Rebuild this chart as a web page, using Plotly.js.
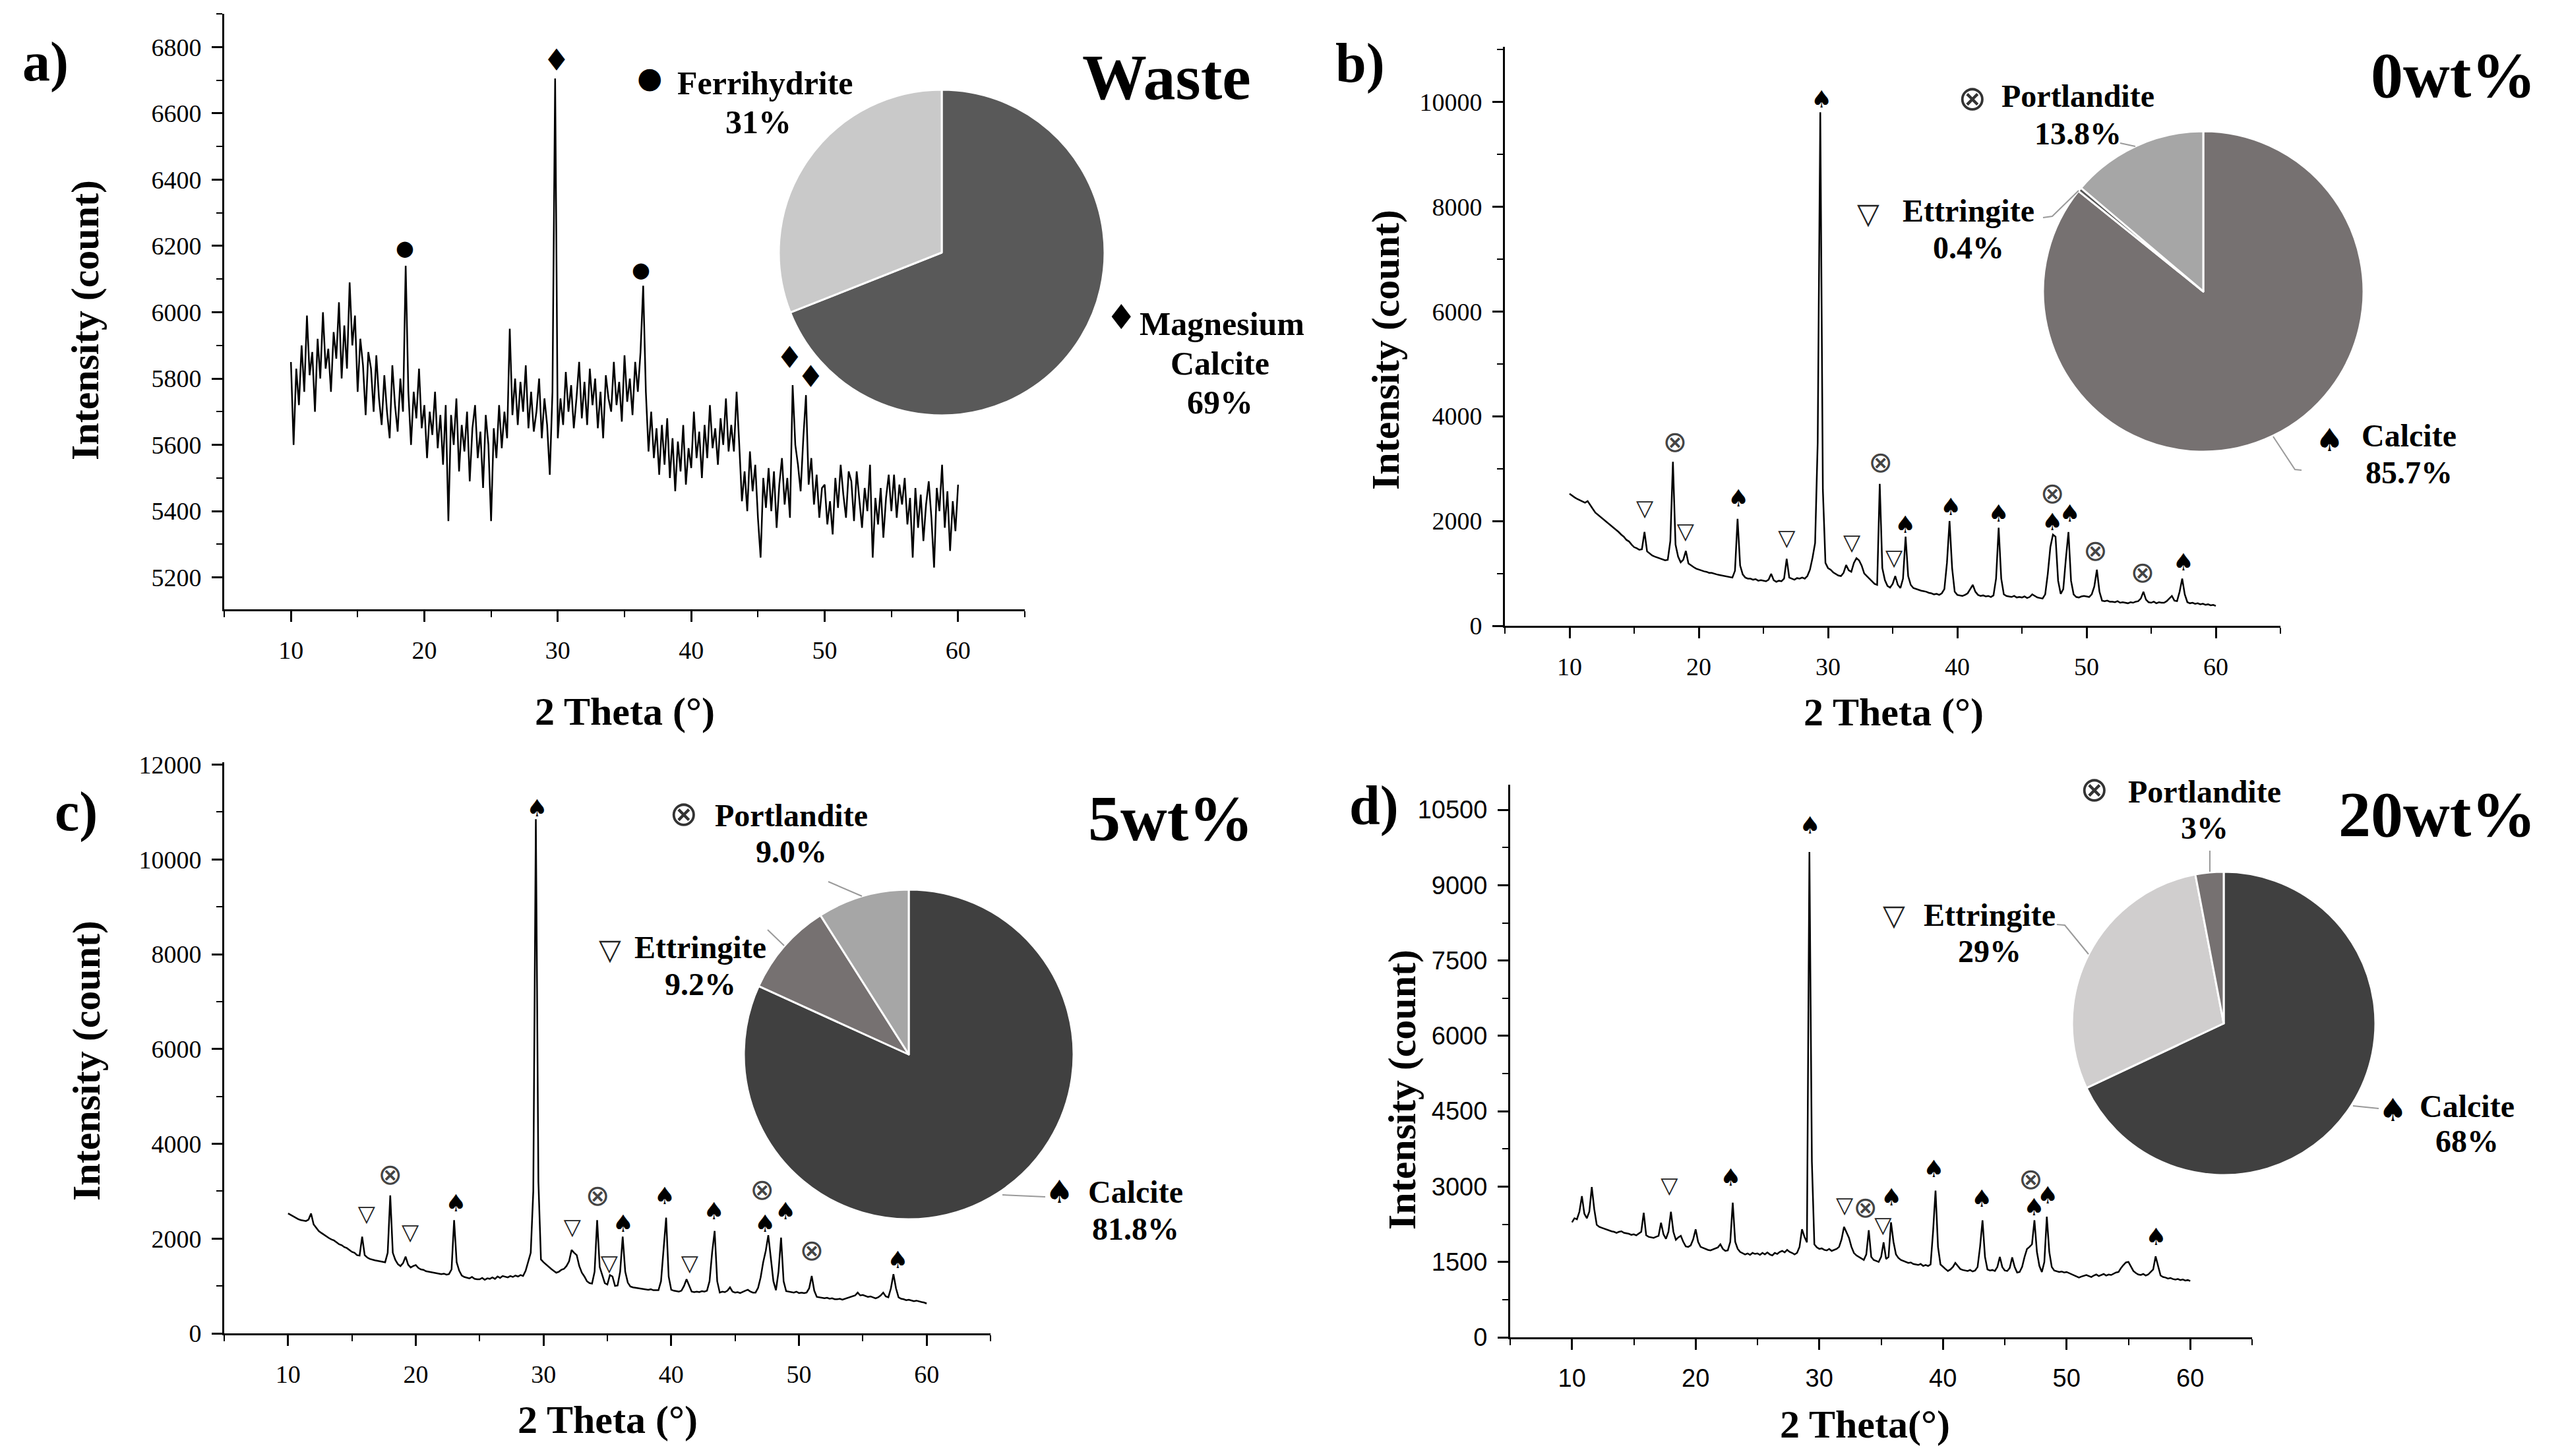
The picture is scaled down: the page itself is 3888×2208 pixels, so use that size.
<!DOCTYPE html>
<html>
<head>
<meta charset="utf-8">
<script src="https://cdn.plot.ly/plotly-3.0.1.min.js"></script>
<style>body{margin:0;background:#fff}</style>
</head>
<body>
<div id="plot"></div>
<script>
const W = 3888, H = 2208;
const SERIF = 'Liberation Serif, Times New Roman, serif';
const SANS = 'Liberation Sans, Arial, sans-serif';
const SYM = 'DejaVu Sans, sans-serif';

// scan grid: 10 to 60 degrees, 0.2 degree step
const THETA_START = 10, THETA_STEP = 0.2;

// a) waste
const wasteCounts = [
  5850, 5600, 5830, 5720, 5900,
  5760, 5990, 5810, 5880, 5700,
  5920, 5800, 6000, 5830, 5890,
  5760, 5940, 5860, 6030, 5800,
  5960, 5830, 6090, 5900, 5990,
  5760, 5920, 5840, 5690, 5880,
  5830, 5700, 5870, 5740, 5660,
  5810, 5700, 5620, 5840, 5720,
  5640, 5800, 5700, 6140, 5760,
  5600, 5760, 5680, 5830, 5650,
  5720, 5560, 5700, 5630, 5760,
  5590, 5690, 5540, 5720, 5370,
  5690, 5600, 5740, 5520, 5660,
  5580, 5700, 5490, 5650, 5720,
  5560, 5640, 5470, 5690, 5600,
  5370, 5650, 5560, 5720, 5590,
  5700, 5620, 5950, 5690, 5800,
  5660, 5790, 5700, 5840, 5650,
  5760, 5640, 5700, 5800, 5620,
  5740, 5660, 5510, 5760, 6705,
  5620, 5740, 5660, 5820, 5700,
  5780, 5650, 5740, 5850, 5680,
  5790, 5660, 5830, 5720, 5800,
  5650, 5760, 5620, 5810, 5740,
  5700, 5850, 5720, 5790, 5670,
  5870, 5730, 5800, 5690, 5850,
  5760, 5880, 6080, 5760, 5580,
  5700, 5560, 5650, 5510, 5660,
  5540, 5680, 5500, 5620, 5460,
  5610, 5520, 5660, 5480, 5590,
  5530, 5700, 5560, 5640, 5500,
  5660, 5560, 5720, 5590, 5650,
  5540, 5680, 5600, 5740, 5580,
  5660, 5580, 5760, 5600, 5430,
  5520, 5400, 5580, 5460, 5540,
  5380, 5260, 5500, 5410, 5530,
  5400, 5520, 5350, 5480, 5560,
  5420, 5500, 5380, 5780, 5600,
  5540, 5460, 5620, 5750, 5480,
  5560, 5420, 5510, 5380, 5470,
  5480, 5360, 5430, 5330, 5500,
  5410, 5540, 5450, 5380, 5520,
  5490, 5370, 5520, 5430, 5350,
  5470, 5400, 5540, 5260, 5440,
  5360, 5470, 5320, 5440, 5510,
  5400, 5510, 5380, 5480, 5420,
  5500, 5360, 5440, 5260, 5470,
  5350, 5450, 5310, 5420, 5490,
  5380, 5230, 5470, 5400, 5540,
  5350, 5460, 5280, 5430, 5340,
  5480
];

// b) 0wt%
const wt0Counts = [
  2520, 2480, 2450, 2420, 2400,
  2370, 2350, 2380, 2300, 2230,
  2160, 2120, 2080, 2040, 2000,
  1950, 1920, 1870, 1840, 1790,
  1740, 1700, 1640, 1610, 1550,
  1500, 1480, 1450, 1460, 1790,
  1420, 1380, 1340, 1320, 1300,
  1290, 1270, 1250, 1260, 1620,
  3130, 1550, 1320, 1210, 1260,
  1430, 1190, 1150, 1120, 1090,
  1070, 1060, 1040, 1030, 1010,
  1010, 990, 980, 970, 960,
  950, 940, 930, 920, 1050,
  2040, 1150, 980, 920, 900,
  900, 880, 890, 860, 870,
  860, 850, 880, 990, 870,
  840, 860, 850, 900, 1280,
  920, 900, 880, 910, 900,
  920, 900, 950, 1070, 1300,
  1580, 3500, 9800, 2600, 1200,
  1100, 1070, 1020, 990, 960,
  950, 1010, 1160, 1060, 1030,
  1200, 1290, 1250, 1150, 1000,
  950, 900, 850, 800, 780,
  2710, 1100, 870, 760, 730,
  800, 950, 780, 720, 900,
  1700, 950, 780, 720, 700,
  690, 670, 660, 650, 630,
  620, 600, 610, 590, 620,
  700, 1200, 2000, 1100, 650,
  590, 580, 570, 590, 620,
  700, 780, 650, 590, 570,
  580, 560, 570, 550, 580,
  900, 1870, 900, 600, 570,
  560, 550, 570, 540, 550,
  540, 560, 530, 550, 600,
  570, 540, 530, 520, 600,
  990, 1500, 1740, 1700, 860,
  610, 700, 1280, 1790, 860,
  600, 550, 540, 560, 570,
  560, 550, 600, 750, 1070,
  650, 480, 470, 480, 460,
  460, 450, 470, 440, 450,
  440, 430, 450, 440, 460,
  470, 520, 650, 500, 450,
  440, 460, 430, 450, 440,
  440, 470, 520, 570, 480,
  470, 650, 900, 600, 450,
  430, 440, 420, 430, 410,
  420, 400, 410, 390, 400,
  380
];

// c) 5wt%
const wt5Counts = [
  2530, 2500, 2460, 2430, 2410,
  2390, 2380, 2370, 2400, 2530,
  2300, 2230, 2160, 2120, 2080,
  2040, 2010, 1980, 1960, 1920,
  1880, 1860, 1820, 1800, 1760,
  1720, 1700, 1650, 1640, 2040,
  1650, 1600, 1570, 1550, 1540,
  1530, 1520, 1510, 1500, 1700,
  2910, 1700, 1550, 1460, 1420,
  1480, 1620, 1450, 1390, 1420,
  1440, 1380, 1350, 1340, 1310,
  1300, 1290, 1270, 1260, 1250,
  1250, 1260, 1240, 1250, 1350,
  2390, 1500, 1320, 1220, 1190,
  1180, 1160, 1190, 1150, 1140,
  1140, 1170, 1130, 1160, 1150,
  1180, 1150, 1200, 1170, 1210,
  1200, 1180, 1210, 1190, 1220,
  1200, 1230, 1210, 1320, 1500,
  1700, 3000, 10850, 3200, 1560,
  1500, 1450, 1400, 1360, 1320,
  1280, 1300, 1340, 1360, 1420,
  1520, 1760, 1700, 1650, 1420,
  1280, 1200, 1100, 1060, 1050,
  1300, 2390, 1400, 1230, 1060,
  1030, 1230, 1200, 1000, 1010,
  1300, 2040, 1300, 1070, 990,
  970, 960, 950, 940, 930,
  930, 920, 930, 910, 910,
  910, 1100, 1800, 2440, 1200,
  920, 900, 890, 880, 900,
  1000, 1140, 1000, 880, 870,
  880, 870, 890, 880, 900,
  1100, 1700, 2160, 1100, 860,
  880, 870, 900, 970, 880,
  860, 870, 850, 880, 900,
  920, 880, 860, 860, 960,
  1180, 1500, 1740, 2070, 1600,
  1100, 910, 1300, 2020, 1100,
  890, 880, 870, 860, 880,
  850, 860, 850, 860, 950,
  1210, 900, 770, 760, 750,
  740, 750, 730, 740, 720,
  720, 730, 710, 730, 750,
  760, 780, 800, 860, 800,
  810, 790, 770, 780, 760,
  740, 760, 800, 860, 780,
  760, 950, 1250, 950, 760,
  730, 720, 700, 710, 690,
  680, 690, 670, 660, 650,
  630
];

// d) 20wt%
const wt20Counts = [
  2290, 2370, 2350, 2500, 2810,
  2460, 2370, 2500, 2990, 2550,
  2240, 2200, 2180, 2160, 2140,
  2130, 2110, 2100, 2080, 2100,
  2110, 2080, 2070, 2060, 2040,
  2050, 2030, 2060, 2100, 2480,
  2030, 2000, 1990, 1980, 2000,
  2020, 2280, 2050, 1960, 2100,
  2500, 2100, 1940, 1990, 2020,
  1900, 1810, 1800, 1830, 1950,
  2150, 1900, 1800, 1780, 1750,
  1740, 1730, 1750, 1760, 1790,
  1850, 1760, 1720, 1730, 1900,
  2680, 1900, 1760, 1700, 1680,
  1650, 1670, 1640, 1680, 1660,
  1670, 1640, 1680, 1650, 1690,
  1650, 1630, 1680, 1660, 1700,
  1720, 1690, 1740, 1700, 1680,
  1650, 1680, 1800, 2150, 2000,
  1890, 9660, 3500, 1850, 1790,
  1760, 1770, 1740, 1730, 1760,
  1720, 1740, 1760, 1800, 1950,
  2200, 2100, 1980, 1800, 1680,
  1630, 1600, 1580, 1540, 1650,
  2130, 1600, 1540, 1520, 1500,
  1600, 1890, 1560, 1600, 2290,
  1900, 1650, 1580, 1540, 1520,
  1500, 1480, 1490, 1460, 1450,
  1440, 1460, 1420, 1440, 1420,
  1450, 2100, 2920, 1800, 1450,
  1400, 1360, 1320, 1350, 1400,
  1480, 1420, 1360, 1340, 1330,
  1320, 1340, 1310, 1330, 1400,
  1800, 2330, 1600, 1350, 1330,
  1340, 1320, 1400, 1600, 1400,
  1330, 1320, 1380, 1590, 1400,
  1290, 1300, 1400, 1600, 1760,
  1800, 1850, 2330, 1700, 1420,
  1300, 1500, 2400, 1700, 1400,
  1330, 1320, 1300, 1310, 1290,
  1300, 1280, 1260, 1240, 1220,
  1190, 1210, 1230, 1240, 1220,
  1200, 1230, 1250, 1220, 1240,
  1260, 1230, 1250, 1240, 1270,
  1290, 1300, 1380, 1440, 1490,
  1500, 1400, 1320, 1280, 1250,
  1240, 1260, 1230, 1250, 1300,
  1350, 1610, 1400, 1230, 1200,
  1190, 1170, 1180, 1160, 1150,
  1160, 1140, 1150, 1130, 1140,
  1120
];

// peak markers (2theta, count at symbol)
const aFerriX = [18.54, 36.23], aFerriY = [6188, 6123];
const aMagX = [29.9, 47.38, 48.96], aMagY = [6751, 5855, 5798];

const bPortX = [18.16, 34.06, 47.36, 50.69, 54.33], bPortY = [3465, 3066, 2478, 1386, 966];
const bEttX = [15.82, 18.97, 26.8, 31.84, 35.1], bEttY = [2205, 1764, 1638, 1554, 1260];
const bCalX = [23.07, 29.5, 35.98, 39.5, 43.2, 47.36, 48.7, 57.5];
const bCalY = [2394, 10000, 1890, 2226, 2100, 1932, 2100, 1176];

const cPortX = [18.0, 34.24, 47.12, 51.0], cPortY = [3297, 2856, 2972, 1704];
const cEttX = [16.15, 19.57, 32.26, 35.14, 41.44], cEttY = [2484, 2090, 2206, 1440, 1440];
const cCalX = [23.15, 29.5, 36.23, 39.49, 43.35, 47.35, 48.95, 57.74];
const cCalY = [2693, 11040, 2275, 2856, 2531, 2275, 2531, 1509];

const dPortX = [33.73, 47.1], dPortY = [2527, 3095];
const dEttX = [17.87, 32.04, 35.15], dEttY = [2986, 2592, 2199];
const dCalX = [22.83, 29.25, 35.84, 39.26, 43.14, 47.37, 48.48, 57.24];
const dCalY = [3139, 10150, 2745, 3314, 2723, 2549, 2789, 1958];

// phase fractions (%)
const wastePhases = ['Magnesium Calcite', 'Ferrihydrite'];
const wasteShares = [69, 31];
const cementPhases = ['Calcite', 'Ettringite', 'Portlandite'];
const wt0Shares = [85.7, 0.4, 13.8];
const wt5Shares = [81.8, 9.2, 9.0];
const wt20Shares = [68, 29, 3];
const wt0Labels = ['85.7%', '0.4%', '13.8%'];
const wt5Labels = ['81.8%', '9.2%', '9.0%'];
const wt20Labels = ['68%', '29%', '3%'];

const panelTitles = ['Waste', '0wt%', '5wt%', '20wt%'];
const panelLetters = ['a)', 'b)', 'c)', 'd)'];

const px = (x) => x / W;
const py = (y) => 1 - y / H;

function theta(n) {
    return Array.from({ length: n }, (_, i) => +(THETA_START + i * THETA_STEP).toFixed(1));
}

function pattern(counts, n, width) {
    return {
        x: theta(counts.length), y: counts, type: 'scatter', mode: 'lines',
        line: { color: '#000', width: width }, xaxis: 'x' + n, yaxis: 'y' + n,
        hoverinfo: 'skip', showlegend: false
    };
}

function glyphs(xs, ys, ch, size, n, color) {
    return {
        x: xs, y: ys, type: 'scatter', mode: 'text', text: xs.map(() => ch),
        textposition: 'middle center', cliponaxis: false,
        textfont: { family: SYM, size: size, color: color || '#000' },
        xaxis: 'x' + n, yaxis: 'y' + n, hoverinfo: 'skip', showlegend: false
    };
}

function pie(values, labels, colors, cx, cy, r) {
    return {
        type: 'pie', values: values, labels: labels, sort: false,
        direction: 'clockwise', rotation: 0, textinfo: 'none', hoverinfo: 'skip',
        marker: { colors: colors, line: { color: '#fff', width: 3 } },
        domain: { x: [px(cx - r), px(cx + r)], y: [py(cy + r), py(cy - r)] },
        showlegend: false
    };
}

const P = ''; // first axis suffix
const data = [
    pattern(wasteCounts, P, 2.5),
    pattern(wt0Counts, 2, 2.5),
    pattern(wt5Counts, 3, 2.5),
    pattern(wt20Counts, 4, 2.5),
    glyphs(aFerriX, aFerriY, '\u25CF', 32, P),
    glyphs(aMagX, aMagY, '\u2666', 46, P),
    glyphs(bPortX, bPortY, '\u2297', 44, 2, '#444'),
    glyphs(bEttX, bEttY, '\u25BD', 34, 2, '#222'),
    glyphs(bCalX, bCalY, '\u2660', 36, 2),
    glyphs(cPortX, cPortY, '\u2297', 44, 3, '#444'),
    glyphs(cEttX, cEttY, '\u25BD', 34, 3, '#222'),
    glyphs(cCalX, cCalY, '\u2660', 36, 3),
    glyphs(dPortX, dPortY, '\u2297', 44, 4, '#444'),
    glyphs(dEttX, dEttY, '\u25BD', 34, 4, '#222'),
    glyphs(dCalX, dCalY, '\u2660', 36, 4),
    pie(wasteShares, wastePhases, ['#595959', '#c9c9c9'], 1428, 383, 247),
    pie(wt0Shares, cementPhases, ['#767171', '#595959', '#a6a6a6'], 3341, 442, 243),
    pie(wt5Shares, cementPhases, ['#404040', '#767171', '#a6a6a6'], 1378, 1599, 250),
    pie(wt20Shares, cementPhases, ['#404040', '#d0cece', '#767171'], 3372, 1552, 230)
];

function xAxis(x0, x1, y, anchor, family) {
    return {
        domain: [px(x0), px(x1)], anchor: anchor, position: py(y), range: [5, 65],
        tick0: 0, dtick: 10, ticks: 'outside', ticklen: 16, tickwidth: 3, tickcolor: '#000',
        minor: { dtick: 5, ticks: 'outside', ticklen: 9, tickwidth: 2, tickcolor: '#000' },
        showline: true, linewidth: 3, linecolor: '#000', showgrid: false, zeroline: false,
        tickfont: { family: family, size: 38, color: '#000' }, ticklabelstandoff: 10
    };
}

function yAxis(yTop, yBottom, anchor, range, dtick, family) {
    return {
        domain: [py(yBottom), py(yTop)], anchor: anchor, range: range,
        tick0: 0, dtick: dtick, tickformat: 'd', ticks: 'outside', ticklen: 16, tickwidth: 3, tickcolor: '#000',
        minor: { dtick: dtick / 2, ticks: 'outside', ticklen: 9, tickwidth: 2, tickcolor: '#000' },
        showline: true, linewidth: 3, linecolor: '#000', showgrid: false, zeroline: false,
        tickfont: { family: family, size: 38, color: '#000' }, ticklabelstandoff: 8
    };
}

const annotations = [];
function note(x, y, text, size, extra) {
    annotations.push(Object.assign({
        xref: 'paper', yref: 'paper', x: px(x), y: py(y), text: text, showarrow: false,
        xanchor: 'center', yanchor: 'middle',
        font: { family: SERIF, size: size, color: '#000', weight: 700 }
    }, extra || {}));
}
function sym(x, y, ch, size, color) {
    note(x, y, ch, size, { font: { family: SYM, size: size, color: color || '#000' } });
}

// panel letters and titles
[[69, 94], [2062, 96], [115, 1231], [2083, 1222]].forEach((p, i) => note(p[0], p[1], panelLetters[i], 84));
[[1769, 117], [3720, 114], [1775, 1241], [3695, 1235]].forEach((p, i) => note(p[0], p[1], panelTitles[i], 98));

// axis titles
[[129, 486], [2101, 531], [131, 1609], [2126, 1653]].forEach(p =>
    note(p[0], p[1], 'Intensity (count)', 60, { textangle: -90 }));
[[947, 1079, '2 Theta (°)'], [2871, 1080, '2 Theta (°)'], [921, 2153, '2 Theta (°)'], [2828, 2160, '2 Theta(°)']]
    .forEach(p => note(p[0], p[1], p[2], 60));

// pie labels: a)
sym(985, 118, '\u25CF', 44);
note(1160, 126, 'Ferrihydrite', 50);
note(1150, 185, wasteShares[1] + '%', 50);
sym(1700, 481, '\u2666', 52);
note(1853, 491, 'Magnesium', 50);
note(1850, 551, 'Calcite', 50);
note(1850, 610, wasteShares[0] + '%', 50);

// b), c), d): [symbol x, y, text x, line1 y, line2 y] for Calcite, Ettringite, Portlandite
const labelSpots = [
    [[3532, 667, 3653, 660, 716], [2833, 323, 2985, 319, 375], [2991, 149, 3151, 145, 203]],
    [[1606, 1807, 1722, 1807, 1863], [925, 1439, 1062, 1436, 1492], [1037, 1234, 1200, 1236, 1291]],
    [[3628, 1683, 3741, 1677, 1730], [2872, 1387, 3017, 1387, 1442], [3176, 1197, 3343, 1200, 1255]]
];
const phaseGlyphs = [['\u2660', 48, '#000'], ['\u25BD', 44, '#222'], ['\u2297', 52, '#333']];
[wt0Labels, wt5Labels, wt20Labels].forEach((pcts, k) => {
    cementPhases.forEach((name, i) => {
        const s = labelSpots[k][i], g = phaseGlyphs[i];
        sym(s[0], s[1], g[0], g[1], g[2]);
        note(s[2], s[3], name, 48);
        note(s[2], s[4], pcts[i], 48);
    });
});

// leader lines
const leaders = [
    [[3215, 217], [3238, 222]],
    [[3098, 330], [3112, 328], [3152, 289]],
    [[3490, 713], [3480, 712], [3447, 662]],
    [[1256, 1337], [1307, 1359]],
    [[1164, 1410], [1189, 1434]],
    [[1520, 1812], [1585, 1815]],
    [[3351, 1290], [3351, 1322]],
    [[3119, 1402], [3131, 1403], [3167, 1447]],
    [[3568, 1677], [3607, 1681]]
];
const shapes = leaders.map(pts => ({
    type: 'path', xref: 'paper', yref: 'paper',
    path: pts.map((p, i) => (i ? 'L' : 'M') + px(p[0]) + ',' + py(p[1])).join(' '),
    line: { color: '#9a9a9a', width: 2 }
}));

const layout = {
    width: W, height: H, margin: { l: 0, r: 0, t: 0, b: 0 },
    paper_bgcolor: '#fff', plot_bgcolor: 'rgba(0,0,0,0)', showlegend: false,
    xaxis: xAxis(340, 1554, 924, 'y', SERIF),
    yaxis: yAxis(21, 924, 'x', [5104, 6900], 200, SERIF),
    xaxis2: xAxis(2282, 3458, 949, 'y2', SERIF),
    yaxis2: yAxis(71, 949, 'x2', [0, 11050], 2000, SERIF),
    xaxis3: xAxis(340, 1502, 2022, 'y3', SERIF),
    yaxis3: yAxis(1156, 2022, 'x3', [0, 12050], 2000, SERIF),
    xaxis4: xAxis(2290, 3415, 2028, 'y4', SANS),
    yaxis4: yAxis(1190, 2028, 'x4', [0, 11000], 1500, SANS),
    annotations: annotations,
    shapes: shapes
};

Plotly.newPlot('plot', data, layout, { displayModeBar: false, staticPlot: true });
</script>
</body>
</html>
